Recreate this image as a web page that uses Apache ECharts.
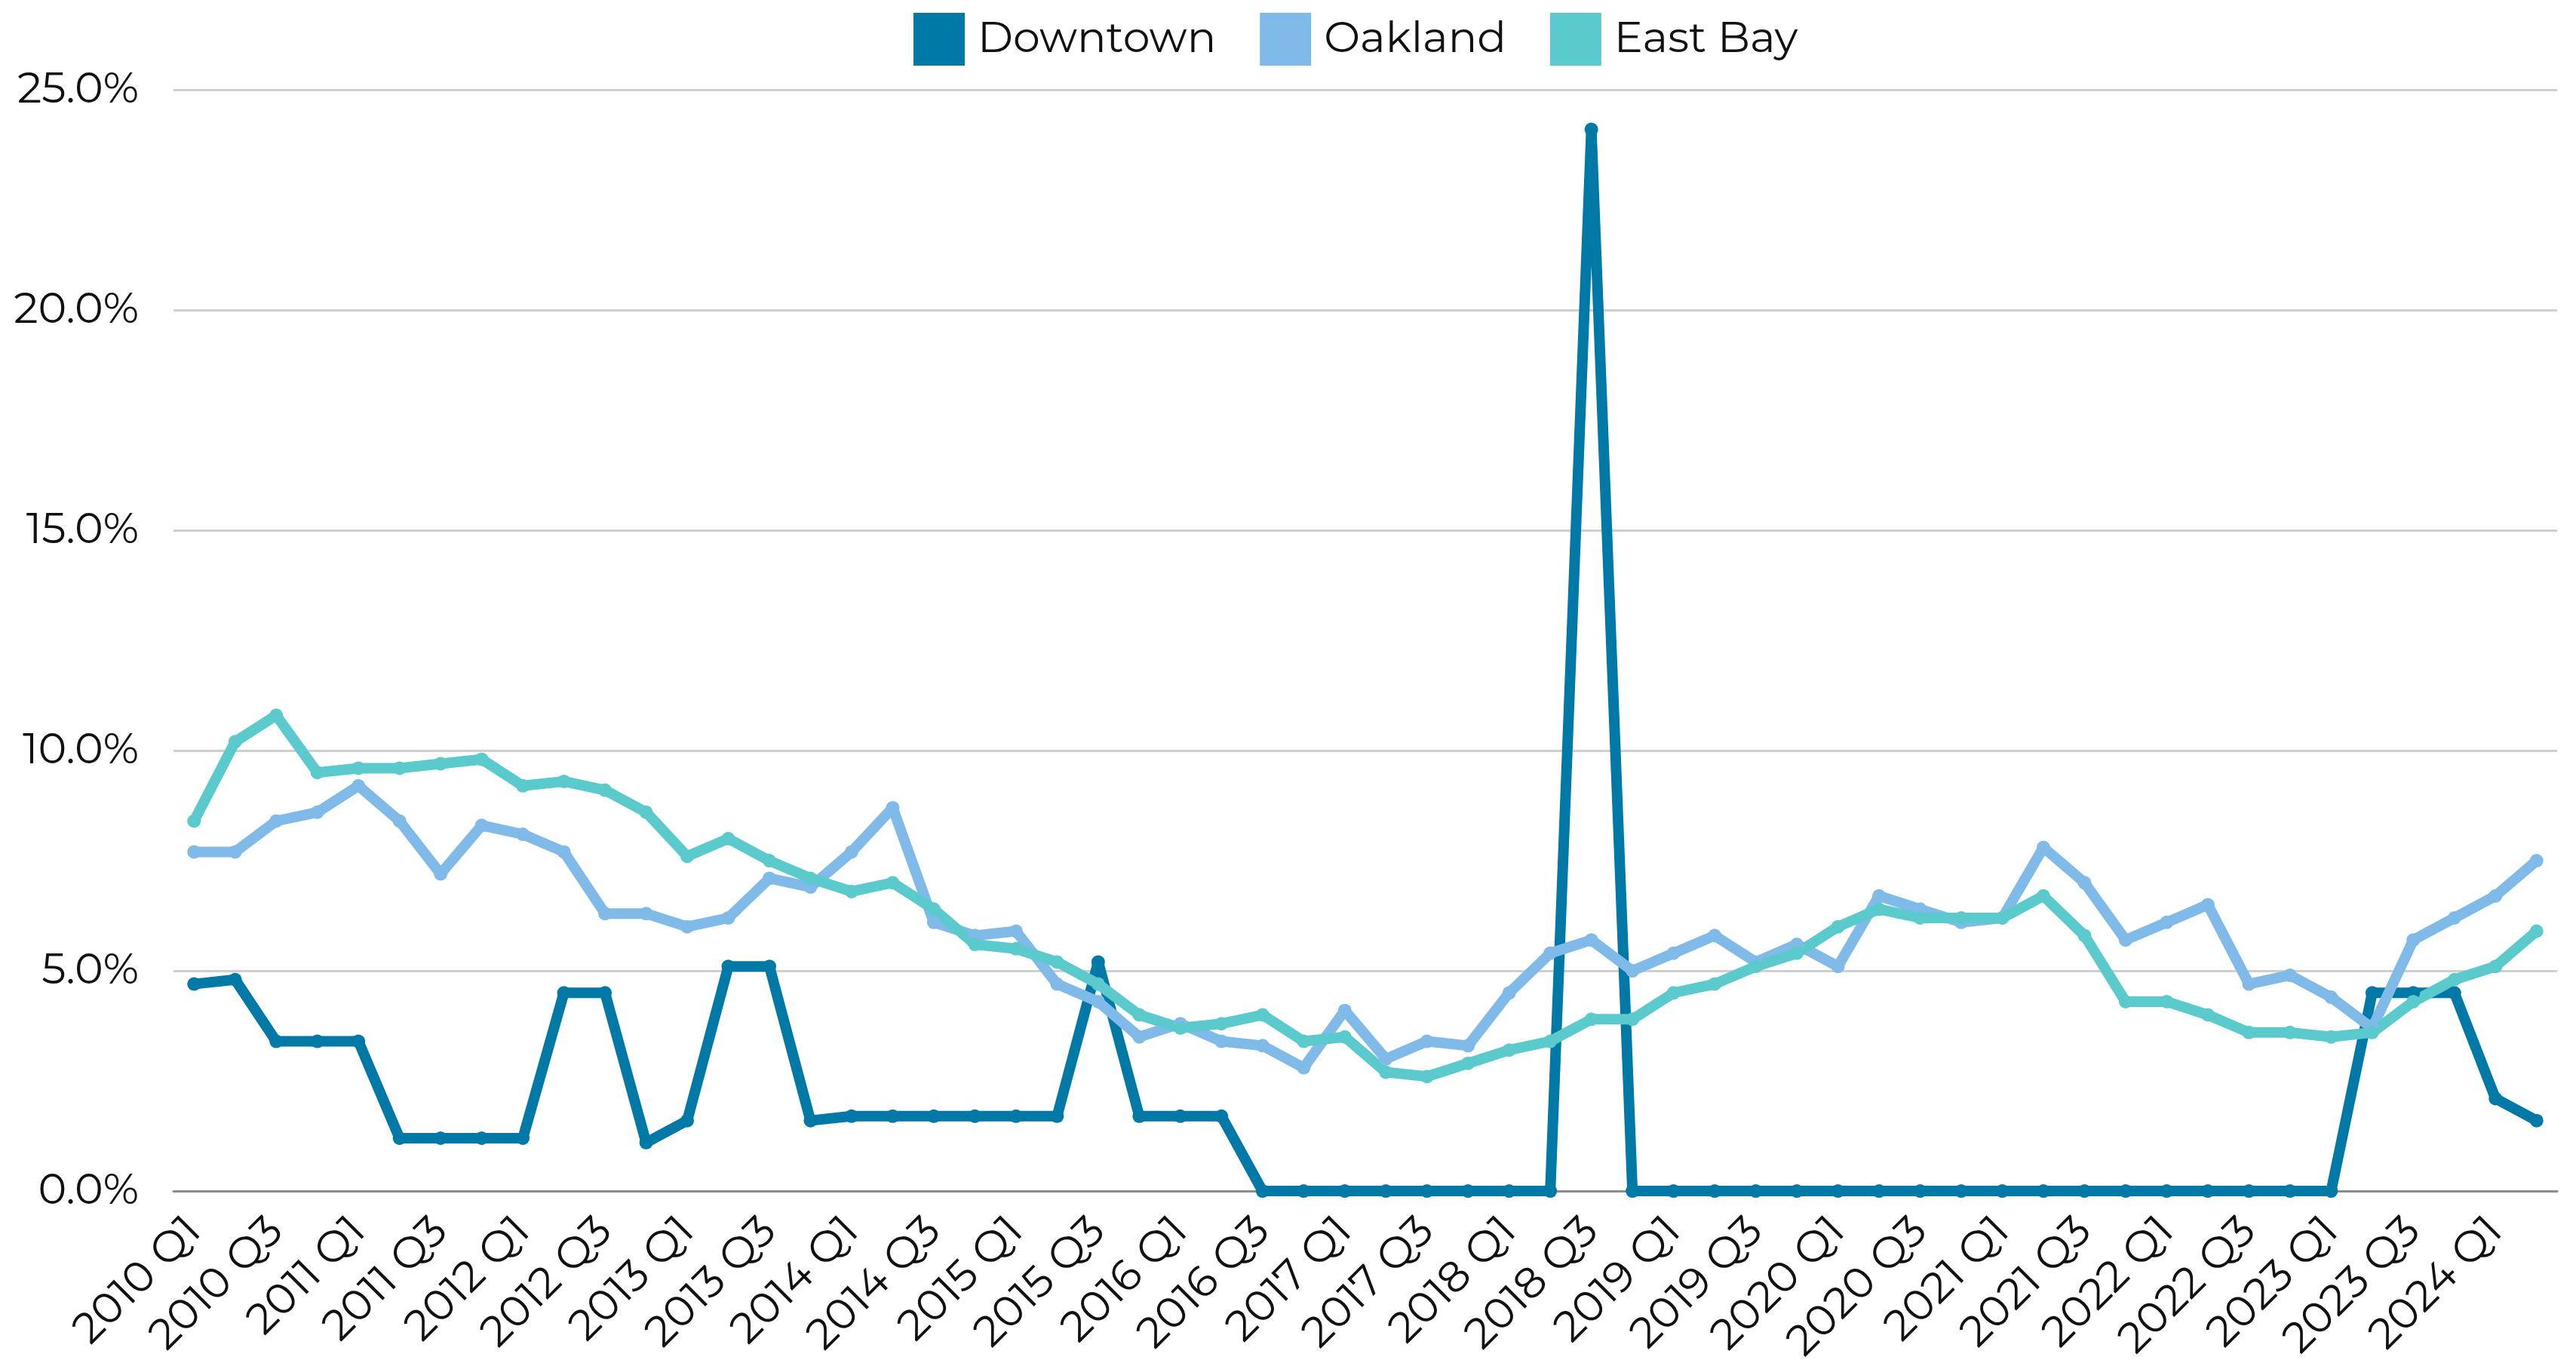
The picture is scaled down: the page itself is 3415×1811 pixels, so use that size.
<!DOCTYPE html>
<html>
<head>
<meta charset="utf-8">
<script src="https://cdn.jsdelivr.net/npm/echarts@6/dist/echarts.min.js"></script>
<style>
  html, body { margin: 0; padding: 0; background: #fff; }
  #chart { width: 3415px; height: 1811px; }
</style>
</head>
<body>
<div id="chart"></div>
<script>
// quarters 2010 Q1 .. 2024 Q2
const years = [2010, 2011, 2012, 2013, 2014, 2015, 2016, 2017, 2018, 2019, 2020, 2021, 2022, 2023, 2024]
const quarters = []
years.forEach(y => {
    ['Q1', 'Q2', 'Q3', 'Q4'].forEach(q => {
        if (y === 2024 && (q === 'Q3' || q === 'Q4')) return
        quarters.push(y + ' ' + q)
    })
})

// values in percent
const downtown = [
    4.7, 4.8, 3.4, 3.4, 3.4, 1.2, 1.2, 1.2, 1.2, 4.5,
    4.5, 1.1, 1.6, 5.1, 5.1, 1.6, 1.7, 1.7, 1.7, 1.7,
    1.7, 1.7, 5.2, 1.7, 1.7, 1.7, 0, 0, 0, 0,
    0, 0, 0, 0, 24.1, 0, 0, 0, 0, 0,
    0, 0, 0, 0, 0, 0, 0, 0, 0, 0,
    0, 0, 0, 4.5, 4.5, 4.5, 2.1, 1.6
]
const oakland = [
    7.7, 7.7, 8.4, 8.6, 9.2, 8.4, 7.2, 8.3, 8.1, 7.7,
    6.3, 6.3, 6.0, 6.2, 7.1, 6.9, 7.7, 8.7, 6.1, 5.8,
    5.9, 4.7, 4.3, 3.5, 3.8, 3.4, 3.3, 2.8, 4.1, 3.0,
    3.4, 3.3, 4.5, 5.4, 5.7, 5.0, 5.4, 5.8, 5.2, 5.6,
    5.1, 6.7, 6.4, 6.1, 6.2, 7.8, 7.0, 5.7, 6.1, 6.5,
    4.7, 4.9, 4.4, 3.7, 5.7, 6.2, 6.7, 7.5
]
const eastBay = [
    8.4, 10.2, 10.8, 9.5, 9.6, 9.6, 9.7, 9.8, 9.2, 9.3,
    9.1, 8.6, 7.6, 8.0, 7.5, 7.1, 6.8, 7.0, 6.4, 5.6,
    5.5, 5.2, 4.7, 4.0, 3.7, 3.8, 4.0, 3.4, 3.5, 2.7,
    2.6, 2.9, 3.2, 3.4, 3.9, 3.9, 4.5, 4.7, 5.1, 5.4,
    6.0, 6.4, 6.2, 6.2, 6.2, 6.7, 5.8, 4.3, 4.3, 4.0,
    3.6, 3.6, 3.5, 3.6, 4.3, 4.8, 5.1, 5.9
]
const yTicks = [0, 5, 10, 15, 20, 25]

const colors = ['#0079a7', '#80bae8', '#5bcacc']
const fontFamily = 'Montserrat, "Noto Sans", sans-serif'

const lineSeries = (name, data) => ({
    name: name,
    type: 'line',
    data: data,
    symbol: 'circle',
    symbolSize: 18,
    lineStyle: { width: 14 },
    emphasis: { disabled: true }
})

const chart = echarts.init(document.getElementById('chart'))
chart.setOption({
    animation: false,
    color: colors,
    textStyle: { fontFamily: fontFamily },
    legend: {
        top: 12,
        left: 1206,
        itemWidth: 68,
        itemHeight: 70,
        itemGap: 58,
        icon: 'rect',
        textStyle: {
            fontSize: 57,
            color: '#111',
            padding: [0, 0, 0, 12]
        },
        data: ['Downtown', 'Oakland', 'East Bay']
    },
    grid: {
        left: 230,
        right: 25,
        top: 119,
        bottom: 230,
        containLabel: false
    },
    xAxis: {
        type: 'category',
        data: quarters,
        boundaryGap: true,
        axisTick: { show: false },
        axisLine: { lineStyle: { color: '#8c8c8c', width: 3 } },
        axisLabel: {
            interval: 1,
            rotate: 45,
            margin: 44,
            fontSize: 57,
            color: '#111'
        }
    },
    yAxis: {
        type: 'value',
        min: yTicks[0],
        max: yTicks[yTicks.length - 1],
        interval: 5,
        axisLine: { show: false },
        axisTick: { show: false },
        splitLine: { lineStyle: { color: '#cfcfcf', width: 3 } },
        axisLabel: {
            margin: 46,
            fontSize: 57,
            color: '#111',
            formatter: v => v.toFixed(1) + '%'
        }
    },
    series: [
        lineSeries('Downtown', downtown),
        lineSeries('Oakland', oakland),
        lineSeries('East Bay', eastBay)
    ]
})
</script>
</body>
</html>
